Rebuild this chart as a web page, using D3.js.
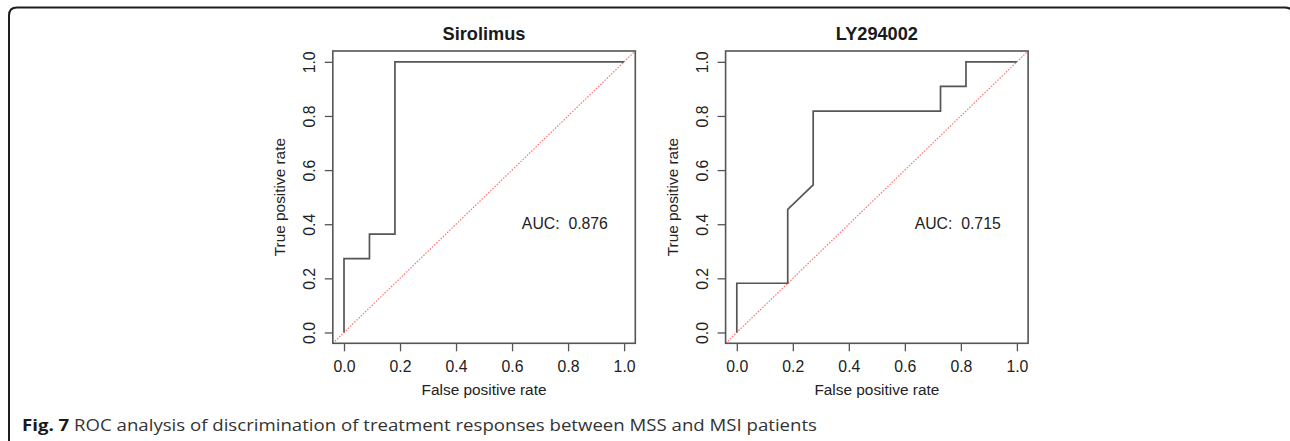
<!DOCTYPE html>
<html>
<head>
<meta charset="utf-8">
<script src="https://cdn.jsdelivr.net/npm/d3@7"></script>
<style>
  body { margin: 0; background: #fff; }
  svg { display: block; }
  .tick line { stroke: #555; stroke-width: 1.3; }
  .tick text { font-family: "Liberation Sans", Arial, sans-serif; font-size: 15.8px; fill: #222; }
</style>
</head>
<body>
<div id="chart"></div>
<script>
// panel titles and ROC curves (11 MSS vs 11 MSI)
const panelTitles = ["Sirolimus", "LY294002"]
const sirolimusFPR = [0, 0, 0.0909, 0.0909, 0.1818, 0.1818, 1]
const sirolimusTPR = [0, 0.2727, 0.2727, 0.3636, 0.3636, 1, 1]
const lyFPR = [0, 0, 0.1818, 0.1818, 0.2727, 0.2727, 0.7273, 0.7273, 0.8182, 0.8182, 1]
const lyTPR = [0, 0.1818, 0.1818, 0.4545, 0.5455, 0.8182, 0.8182, 0.9091, 0.9091, 1, 1]
const aucValues = [0.876, 0.715]
const tickValues = [0, 0.2, 0.4, 0.6, 0.8, 1.0]
const xLabel = "False positive rate"
const yLabel = "True positive rate"
const captionBold = "Fig. 7"
const captionText = " ROC analysis of discrimination of treatment responses between MSS and MSI patients"

const width = 1290, height = 441
const svg = d3.select("#chart").append("svg")
    .attr("width", width)
    .attr("height", height)

// outer frame (open at the bottom, right side runs off the picture)
const r = 8, fl = 9, ft = 7.5, fr = 1293
svg.append("path")
    .attr("d", `M${fl},${height + 10} L${fl},${ft + r} Q${fl},${ft} ${fl + r},${ft} L${fr - r},${ft} Q${fr},${ft} ${fr},${ft + r} L${fr},${height + 10}`)
    .attr("fill", "none")
    .attr("stroke", "#1e1e1e")
    .attr("stroke-width", 2)

const curves = [
    sirolimusFPR.map((x, i) => ({ x: x, y: sirolimusTPR[i] })),
    lyFPR.map((x, i) => ({ x: x, y: lyTPR[i] }))
]

const boxLefts = [332.8, 725.6]
const boxWidth = 302.5
const boxTop = 51, boxBottom = 343.3

panelTitles.forEach((title, p) => {
    const left = boxLefts[p]
    const xScale = d3.scaleLinear().domain([-0.04, 1.04]).range([left, left + boxWidth])
    const yScale = d3.scaleLinear().domain([-0.04, 1.04]).range([boxBottom, boxTop])
    const g = svg.append("g")

    // x-axis
    const xaxis = d3.axisBottom(xScale)
        .tickValues(tickValues)
        .tickFormat(d3.format(".1f"))
        .tickSize(8)
    const xg = g.append("g")
        .attr("transform", `translate(0,${boxBottom})`)
        .call(xaxis)
    xg.select(".domain").remove()
    xg.selectAll("text")
        .attr("y", 23.4)
        .attr("dy", "0.36em")

    // y-axis, labels parallel to the axis like R
    const yaxis = d3.axisLeft(yScale)
        .tickValues(tickValues)
        .tickFormat(d3.format(".1f"))
        .tickSize(8)
    const yg = g.append("g")
        .attr("transform", `translate(${left},0)`)
        .call(yaxis)
    yg.select(".domain").remove()
    yg.selectAll("text")
        .attr("transform", "rotate(-90)")
        .attr("x", 0)
        .attr("y", -23.5)
        .attr("dy", "0.36em")
        .style("text-anchor", "middle")

    // chance line
    g.append("line")
        .attr("x1", xScale(-0.04)).attr("y1", yScale(-0.04))
        .attr("x2", xScale(1.04)).attr("y2", yScale(1.04))
        .attr("stroke", "#ff7070")
        .attr("stroke-width", 1.2)
        .attr("stroke-dasharray", "1.5,1.5")

    // ROC curve
    const line = d3.line()
        .x(d => xScale(d.x))
        .y(d => yScale(d.y))
    g.append("path")
        .datum(curves[p])
        .attr("d", line)
        .attr("fill", "none")
        .attr("stroke", "#555")
        .attr("stroke-width", 1.7)

    // plot box
    g.append("rect")
        .attr("x", left).attr("y", boxTop)
        .attr("width", boxWidth).attr("height", boxBottom - boxTop)
        .attr("fill", "none")
        .attr("stroke", "#555")
        .attr("stroke-width", 1.6)

    // title
    g.append("text")
        .attr("x", left + boxWidth / 2)
        .attr("y", 39.5)
        .attr("text-anchor", "middle")
        .style("font-family", "Liberation Sans, Arial, sans-serif")
        .style("font-weight", "bold")
        .style("font-size", "18.2px")
        .style("fill", "#1a1a1a")
        .text(title)

    // axis titles
    g.append("text")
        .attr("x", left + boxWidth / 2)
        .attr("y", 389)
        .attr("dy", "0.36em")
        .attr("text-anchor", "middle")
        .style("font-family", "Liberation Sans, Arial, sans-serif")
        .style("font-size", "15.4px")
        .style("fill", "#222")
        .text(xLabel)

    g.append("text")
        .attr("transform", `translate(${left - 53},${(boxTop + boxBottom) / 2}) rotate(-90)`)
        .attr("dy", "0.36em")
        .attr("text-anchor", "middle")
        .style("font-family", "Liberation Sans, Arial, sans-serif")
        .style("font-size", "15.4px")
        .style("fill", "#222")
        .text(yLabel)

    // AUC annotation
    g.append("text")
        .attr("x", xScale(0.635))
        .attr("y", yScale(0.405))
        .attr("dy", "0.36em")
        .style("font-family", "Liberation Sans, Arial, sans-serif")
        .style("font-size", "15.8px")
        .style("fill", "#222")
        .style("white-space", "pre")
        .text("AUC:  " + d3.format(".3f")(aucValues[p]))
})

// caption
const caption = svg.append("text")
    .attr("x", 22)
    .attr("y", 431)
    .attr("textLength", 795)
    .attr("lengthAdjust", "spacingAndGlyphs")
    .style("font-family", "Open Sans, sans-serif")
    .style("font-size", "16px")
    .style("fill", "#333")
caption.append("tspan").style("font-weight", "bold").style("fill", "#1a1a1a").text(captionBold)
caption.append("tspan").text(captionText)
</script>
</body>
</html>
